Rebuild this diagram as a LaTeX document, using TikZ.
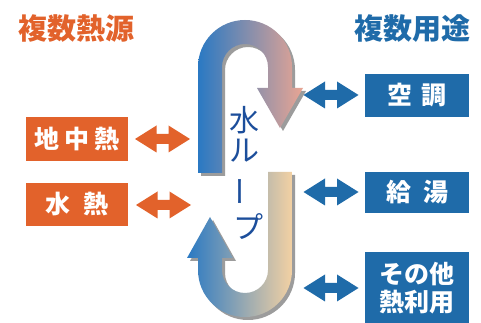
\documentclass[tikz,border=0pt]{standalone}
\usepackage{fontspec}
\setmainfont{Noto Sans CJK JP}
\definecolor{orangeC}{HTML}{E2622B}
\definecolor{blueC}{HTML}{1F6BA9}
\definecolor{loopBlue}{HTML}{2A79C3}
\definecolor{loopPink}{HTML}{E9A593}
\definecolor{loopPeach}{HTML}{F3D1A3}
\definecolor{loopText}{HTML}{1C4E9B}
\definecolor{shadowC}{HTML}{9C9C9C}
\begin{document}
\begin{tikzpicture}[x=1pt,y=1pt,
  obox/.style={fill=orangeC, text=white, font=\bfseries\fontsize{25}{28}\selectfont, minimum width=102pt, minimum height=44pt, inner sep=0pt},
  bbox/.style={fill=blueC, text=white, font=\bfseries\fontsize{25}{28}\selectfont, minimum width=104pt, minimum height=43pt, inner sep=0pt, align=center},
  title/.style={font=\bfseries\fontsize{29}{30}\selectfont, inner sep=0pt},
  vtxt/.style={text=loopText, font=\fontsize{30}{30}\selectfont, inner sep=0pt},
  dbl/.pic={\path[pic actions] (-27.5,0) -- (-6,13.5) -- (-6,5) -- (6,5) -- (6,13.5) -- (27.5,0) -- (6,-13.5) -- (6,-5) -- (-6,-5) -- (-6,-13.5) -- cycle;}
]
\useasboundingbox[fill=white] (0,0) rectangle (481,323);

% titles
\node[title, text=orangeC] (tl) at (76,294) {複数熱源};
\node[title, text=blueC] (tr) at (412,294) {複数用途};

% loop shadows
\begin{scope}[shift={(3,-3)}]
\fill[shadowC] (198,150) -- (198,256) arc[start angle=180,end angle=0,radius=47pt] -- (292,235) -- (303,235) -- (280,195) -- (257,235) -- (268,235) -- (268,256) arc[start angle=0,end angle=180,radius=23pt] -- (222,150) -- cycle;
\fill[shadowC] (268,151) -- (268,53) arc[start angle=0,end angle=-180,radius=23pt] -- (222,65) -- (233,65) -- (210,106) -- (187,65) -- (198,65) -- (198,53) arc[start angle=180,end angle=360,radius=47pt] -- (292,151) -- cycle;
\end{scope}
% loops
\shade[left color=loopBlue, right color=loopPink] (198,150) -- (198,256) arc[start angle=180,end angle=0,radius=47pt] -- (292,235) -- (303,235) -- (280,195) -- (257,235) -- (268,235) -- (268,256) arc[start angle=0,end angle=180,radius=23pt] -- (222,150) -- cycle;
\shade[left color=loopBlue, right color=loopPeach] (268,151) -- (268,53) arc[start angle=0,end angle=-180,radius=23pt] -- (222,65) -- (233,65) -- (210,106) -- (187,65) -- (198,65) -- (198,53) arc[start angle=180,end angle=360,radius=47pt] -- (292,151) -- cycle;

% vertical text
\node[vtxt] (v1) at (244,203) {水};
\node[vtxt] (v2) at (244,172) {ル};
\node[vtxt, rotate=90] (v3) at (245,131) {ー};
\node[vtxt] (v4) at (248,96) {プ};

% left boxes
\node[obox] (chichu) at (77,184) {地\hspace{5pt}中\hspace{5pt}熱};
\node[obox, minimum height=43pt] (suinetsu) at (77,118.5) {水\hspace{13pt}熱};

% right boxes
\node[bbox] (kucho) at (417,227.5) {空\hspace{9pt}調};
\node[bbox, minimum height=41pt] (kyuto) at (417,130.5) {給\hspace{12pt}湯};
\node[bbox, minimum height=72pt] (sonota) at (417,35) {その他\\熱利用};

% double arrows
\pic[fill=orangeC] (a1) at (162.5,184) {dbl};
\pic[fill=orangeC] (a2) at (163.5,118) {dbl};
\pic[fill=blueC] (b1) at (331,228) {dbl};
\pic[fill=blueC] (b2) at (331,131) {dbl};
\pic[fill=blueC] (b3) at (331,35) {dbl};
\end{tikzpicture}
\end{document}
